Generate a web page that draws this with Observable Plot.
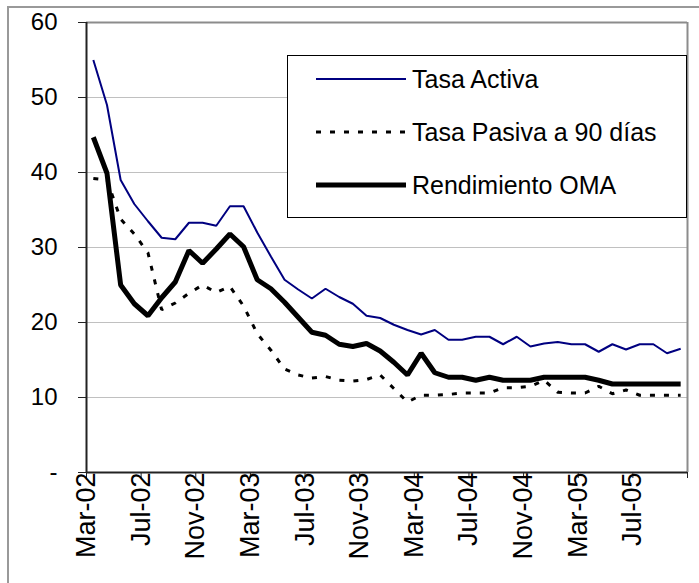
<!DOCTYPE html>
<html><head><meta charset="utf-8">
<script src="https://cdn.jsdelivr.net/npm/d3@7"></script>
<script src="https://cdn.jsdelivr.net/npm/@observablehq/plot@0.6"></script>
<style>
body{margin:0;background:#fff;overflow:hidden}
#wrap{position:relative;width:699px;height:583px;overflow:hidden;font-family:"Liberation Sans",Arial,sans-serif}
#frame{position:absolute;left:7px;top:6px;width:720px;height:600px;border:2px solid #999;box-sizing:border-box}
#chart{position:absolute;left:0;top:0}
#legend{position:absolute;left:287px;top:55px;width:400px;height:163px;border:1px solid #000;background:#fff;box-sizing:border-box}
.item{position:absolute;left:0;height:30px;display:flex;align-items:center}
.item svg{margin-left:28px}
.item span{margin-left:6px;font-size:25px;color:#000;white-space:nowrap}
</style></head><body><div id="wrap"><div id="frame"></div><div id="chart"></div><div id="legend"></div></div>
<script>
const months = ["Mar-02","Apr-02","May-02","Jun-02","Jul-02","Aug-02","Sep-02","Oct-02","Nov-02","Dec-02","Jan-03","Feb-03",
  "Mar-03","Apr-03","May-03","Jun-03","Jul-03","Aug-03","Sep-03","Oct-03","Nov-03","Dec-03","Jan-04","Feb-04",
  "Mar-04","Apr-04","May-04","Jun-04","Jul-04","Aug-04","Sep-04","Oct-04","Nov-04","Dec-04","Jan-05","Feb-05",
  "Mar-05","Apr-05","May-05","Jun-05","Jul-05","Aug-05","Sep-05","Oct-05"];
const xTickLabels = ["Mar-02","Jul-02","Nov-02","Mar-03","Jul-03","Nov-03","Mar-04","Jul-04","Nov-04","Mar-05","Jul-05"];
const yTicks = [0,10,20,30,40,50,60];
const seriesNames = ["Tasa Activa","Tasa Pasiva a 90 días","Rendimiento OMA"];
const tasaActiva = [55.0,49.0,39.0,35.8,33.5,31.3,31.1,33.3,33.3,32.9,35.5,35.5,32.0,28.8,25.7,24.4,23.2,24.5,23.4,22.5,
  20.9,20.6,19.7,19.0,18.4,19.0,17.7,17.7,18.1,18.1,17.1,18.1,16.8,17.2,17.4,17.1,17.1,16.1,17.1,16.4,17.1,17.1,15.9,16.5];
const tasaPasiva = [39.2,39.0,33.8,31.8,29.3,21.7,22.6,23.9,25.0,24.0,24.8,22.2,18.5,16.3,13.8,13.0,12.6,12.8,12.3,12.2,
  12.4,13.0,11.2,9.4,10.3,10.3,10.4,10.6,10.6,10.6,11.3,11.3,11.5,12.3,10.7,10.6,10.6,11.5,10.5,11.0,10.3,10.3,10.3,10.3];
const rendimientoOMA = [44.7,39.9,25.0,22.5,20.9,23.3,25.4,29.6,27.9,29.8,31.8,30.1,25.7,24.5,22.7,20.7,18.7,18.3,17.1,16.8,
  17.2,16.2,14.7,13.0,15.9,13.3,12.7,12.7,12.3,12.7,12.3,12.3,12.3,12.7,12.7,12.7,12.7,12.3,11.8,11.8,11.8,11.8,11.8,11.8];

const styles = [
  {stroke:"#000080", strokeWidth:2, dash:null},
  {stroke:"#000", strokeWidth:3, dash:"5,9"},
  {stroke:"#000", strokeWidth:5, dash:null}
];
const seriesValues = [tasaActiva, tasaPasiva, rendimientoOMA];
const rows = seriesValues.map(vals => months.map((m,i) => ({i, m, v: vals[i]})));
const step = 4;
const tickPos = d3.range(0, months.length + 1, step);
const labelData = xTickLabels.map(l => ({i: months.indexOf(l), l}));

const chart = Plot.plot({
  width: 699, height: 583,
  marginLeft: 86, marginRight: 12, marginTop: 22, marginBottom: 111,
  x: {type: "linear", domain: [0, months.length]},
  y: {domain: [0, 60]},
  style: {fontFamily: '"Liberation Sans", Arial, sans-serif', fontSize: "24px", color: "#000", background: "transparent", overflow: "visible"},
  marks: [
    Plot.ruleY(yTicks.filter(t => t > 0 && t < 60), {stroke: "#c0c0c0", strokeWidth: 1}),
    Plot.ruleY([60], {stroke: "#8c8c8c", strokeWidth: 2}),
    Plot.ruleX([months.length], {stroke: "#8c8c8c", strokeWidth: 2}),
    ...rows.map((r, k) => Plot.line(r, {x: d => d.i + 0.5, y: "v", stroke: styles[k].stroke, strokeWidth: styles[k].strokeWidth, strokeDasharray: styles[k].dash, strokeLinejoin: "miter", strokeLinecap: "butt"})),
    Plot.ruleX([0], {stroke: "#222", strokeWidth: 2}),
    Plot.ruleY([0], {stroke: "#222", strokeWidth: 2}),
    Plot.axisY({ticks: yTicks, tickFormat: d => d === 0 ? "-" : String(d), tickSize: 8, tickPadding: 21, stroke: "#222", fontSize: 24, label: null}),
    Plot.axisX({ticks: tickPos, tickFormat: () => "", tickSize: 6, stroke: "#222", label: null}),
    Plot.text(labelData, {x: d => d.i + 0.5, y: 0, text: "l", rotate: -90, textAnchor: "end", dx: -7, fontSize: 27, fill: "#000"})
  ]
});
document.getElementById("chart").appendChild(chart);

const legend = document.getElementById("legend");
const legendTops = [8, 61, 114];
seriesNames.forEach((name, k) => {
  const div = document.createElement("div");
  div.className = "item";
  div.style.top = legendTops[k] + "px";
  const s = styles[k];
  div.innerHTML = `<svg width="90" height="12"><line x1="0" x2="90" y1="6" y2="6" stroke="${s.stroke}" stroke-width="${s.strokeWidth}" ${s.dash ? `stroke-dasharray="${s.dash}"` : ""} ${k===2?'stroke-linecap="round"':''}/></svg><span>${name}</span>`;
  legend.appendChild(div);
});
</script>
</body></html>
